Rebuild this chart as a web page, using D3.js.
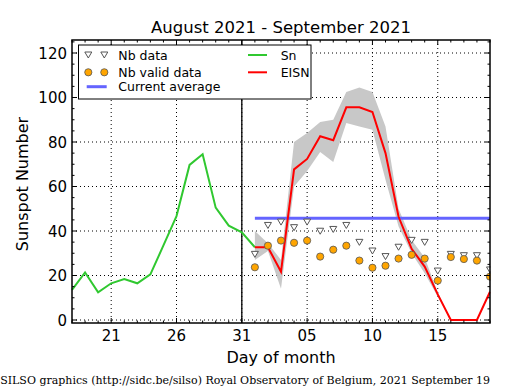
<!DOCTYPE html>
<html><head><meta charset="utf-8">
<script src="https://cdn.jsdelivr.net/npm/d3@7/dist/d3.min.js"></script>
<style>body{margin:0;background:#fff}svg{display:block;font-family:"DejaVu Sans",sans-serif}</style>
</head><body><svg id="c" width="515" height="390"></svg>
<script>
// ---- data ----
const snDates = ["2021-08-18","2021-08-19","2021-08-20","2021-08-21","2021-08-22","2021-08-23","2021-08-24","2021-08-25","2021-08-26","2021-08-27","2021-08-28","2021-08-29","2021-08-30","2021-08-31","2021-09-01"];
const snValues = [13.5,21.4,12.4,16.5,18.4,16.5,20.5,33.5,46.7,69.7,74.5,50.5,42.4,39.4,32.7];
const eisnDates = ["2021-09-01","2021-09-02","2021-09-03","2021-09-04","2021-09-05","2021-09-06","2021-09-07","2021-09-08","2021-09-09","2021-09-10","2021-09-11","2021-09-12","2021-09-13","2021-09-14","2021-09-15","2021-09-16","2021-09-17","2021-09-18","2021-09-19"];
const eisnValues = [32.7,32.7,21.7,67.7,72.4,82.6,80.8,95.6,95.6,93.5,75,46.4,32,24,11.5,0,0,0,12.7];
const eisnUpper = [40,34.5,27,80,84,89,90,102.5,104.5,102.5,87,50,36,28,12.5,0,0,0,13];
const eisnLower = [27,31,14,60,67,75.5,71,88.5,87,85.5,63,42,30,21,10.5,0,0,0,12.5];
const nbData = [29.5,42.5,44,41.5,44,39.9,40.7,42.5,34.9,31,28.5,32.7,35.8,34.9,22,29.5,28.9,28.9,22.5];
const nbValid = [23.7,33.4,35.7,34.7,35.7,28.5,31.6,33.4,26.7,23.5,24.4,27.6,29.3,27.6,17.7,28.3,27.4,26.7,19.5];
const currentAverage = 45.7;
const avgDates = ["2021-09-01","2021-09-19"];
const xDomain = ["2021-08-18","2021-09-19"];
const xTickDates = ["2021-08-21","2021-08-26","2021-08-31","2021-09-05","2021-09-10","2021-09-15"];
const yTicks = [0,20,40,60,80,100,120];
const markerLine = "2021-08-31";
const titleText = "August 2021 - September 2021";
const xLabel = "Day of month";
const yLabel = "Sunspot Number";
const footer = "SILSO graphics (http://sidc.be/silso) Royal Observatory of Belgium, 2021 September 19";

const P = d3.utcParse("%Y-%m-%d");
const svg = d3.select("#c");
const L = 72, R = 490, T = 40, B = 323;
const x = d3.scaleUtc().domain(xDomain.map(P)).range([L, R]);
const y = d3.scaleLinear().domain([0,120]).range([320,53]);

svg.append("rect").attr("width",515).attr("height",390).attr("fill","#fff");

// grid
const g = svg.append("g");
g.selectAll("line.gx").data(xTickDates.map(P)).join("line")
  .attr("x1",d=>x(d)).attr("x2",d=>x(d)).attr("y1",T).attr("y2",B)
  .attr("stroke","#000").attr("stroke-width",1).attr("stroke-dasharray","1,3");
g.selectAll("line.gy").data(yTicks).join("line")
  .attr("y1",d=>y(d)).attr("y2",d=>y(d)).attr("x1",L).attr("x2",R)
  .attr("stroke","#000").attr("stroke-width",1).attr("stroke-dasharray","1,3");

// band
const ed = eisnDates.map(P);
const band = ed.map((d,i)=>({d, lo:eisnLower[i], hi:eisnUpper[i]}));
svg.append("path").datum(band)
  .attr("d", d3.area().x(d=>x(d.d)).y0(d=>y(d.lo)).y1(d=>y(d.hi)))
  .attr("fill","#c8c8c8").attr("stroke","none");

// current average
svg.append("line").attr("x1",x(P(avgDates[0]))).attr("x2",x(P(avgDates[1])))
  .attr("y1",y(currentAverage)).attr("y2",y(currentAverage))
  .attr("stroke","#6464ff").attr("stroke-width",3);

// vertical marker
svg.append("line").attr("x1",x(P(markerLine))).attr("x2",x(P(markerLine))).attr("y1",T).attr("y2",B)
  .attr("stroke","#000").attr("stroke-width",1.3);

// Sn line
const sn = snDates.map((d,i)=>({d:P(d), v:snValues[i]}));
svg.append("path").datum(sn).attr("d", d3.line().x(d=>x(d.d)).y(d=>y(d.v)))
  .attr("fill","none").attr("stroke","#30c830").attr("stroke-width",2);

// EISN line
const ei = ed.map((d,i)=>({d, v:eisnValues[i]}));
svg.append("path").datum(ei).attr("d", d3.line().x(d=>x(d.d)).y(d=>y(d.v)))
  .attr("fill","none").attr("stroke","#ff0000").attr("stroke-width",2);

// markers
const tri = "M-3.5,-3 L3.5,-3 L0,3 Z";
svg.selectAll("path.tri").data(ed.map((d,i)=>({d,v:nbData[i]}))).join("path")
  .attr("d",tri).attr("transform",d=>`translate(${x(d.d)},${y(d.v)})`)
  .attr("fill","#fff").attr("stroke","#555").attr("stroke-width",1);
svg.selectAll("circle.nv").data(ed.map((d,i)=>({d,v:nbValid[i]}))).join("circle")
  .attr("cx",d=>x(d.d)).attr("cy",d=>y(d.v)).attr("r",3.6)
  .attr("fill","#ffa500").attr("stroke","#555").attr("stroke-width",0.8);

// cover outside plot (right side marker overflow)
svg.append("rect").attr("x",R+0.5).attr("y",T-5).attr("width",30).attr("height",B-T+10).attr("fill","#fff");

// frame
svg.append("rect").attr("x",L).attr("y",T).attr("width",R-L).attr("height",B-T)
  .attr("fill","none").attr("stroke","#000").attr("stroke-width",1.5);

// ticks (inward, all sides)
const ax = svg.append("g").attr("stroke","#000").attr("stroke-width",1);
const minorX = d3.utcDay.range(P(xDomain[0]), d3.utcDay.offset(P(xDomain[1]),1));
const majorXs = new Set(xTickDates);
minorX.forEach(d=>{
  const major = majorXs.has(d3.utcFormat("%Y-%m-%d")(d));
  const len = major?5:2.5;
  ax.append("line").attr("x1",x(d)).attr("x2",x(d)).attr("y1",B).attr("y2",B-len);
  ax.append("line").attr("x1",x(d)).attr("x2",x(d)).attr("y1",T).attr("y2",T+len);
});
d3.range(0,126,5).forEach(v=>{
  const len = v%20===0?5:2.5;
  ax.append("line").attr("x1",L).attr("x2",L+len).attr("y1",y(v)).attr("y2",y(v));
  ax.append("line").attr("x1",R).attr("x2",R-len).attr("y1",y(v)).attr("y2",y(v));
});

// tick labels
svg.selectAll("text.xt").data(xTickDates.map(P)).join("text")
  .attr("x",d=>x(d)).attr("y",341).attr("text-anchor","middle").attr("font-size",15)
  .text(d=>d3.utcFormat("%d")(d));
svg.selectAll("text.yt").data(yTicks).join("text")
  .attr("x",67).attr("y",d=>y(d)+5.5).attr("text-anchor","end").attr("font-size",15)
  .text(d=>d);

// labels
svg.append("text").attr("x",281).attr("y",33).attr("text-anchor","middle").attr("font-size",16.5).text(titleText);
svg.append("text").attr("x",281).attr("y",363).attr("text-anchor","middle").attr("font-size",16).text(xLabel);
svg.append("text").attr("transform","translate(28,184) rotate(-90)").attr("text-anchor","middle").attr("font-size",16).text(yLabel);
svg.append("text").attr("x",490).attr("y",384).attr("text-anchor","end").attr("font-size",11)
  .attr("font-family","'DejaVu Serif',serif").text(footer);

// legend
const lg = svg.append("g");
lg.append("rect").attr("x",78.5).attr("y",45).attr("width",232.5).attr("height",54).attr("fill","#fff").attr("stroke","#000").attr("stroke-width",1);
[88.3,104.3].forEach(cx=>{
  lg.append("path").attr("d",tri).attr("transform",`translate(${cx},55)`).attr("fill","#fff").attr("stroke","#555");
  lg.append("circle").attr("cx",cx).attr("cy",72.3).attr("r",3.6).attr("fill","#ffa500").attr("stroke","#555").attr("stroke-width",0.8);
});
lg.append("line").attr("x1",86.7).attr("x2",106.7).attr("y1",86.7).attr("y2",86.7).attr("stroke","#6464ff").attr("stroke-width",3);
lg.append("line").attr("x1",248).attr("x2",267).attr("y1",55).attr("y2",55).attr("stroke","#30c830").attr("stroke-width",2);
lg.append("line").attr("x1",248).attr("x2",267).attr("y1",72.3).attr("y2",72.3).attr("stroke","#ff0000").attr("stroke-width",2);
const lt = [["Nb data",118.3,59.5],["Nb valid data",118.3,76.8],["Current average",118.3,91.2],["Sn",280.7,59.5],["EISN",280.7,76.8]];
lt.forEach(([t,tx,ty])=>lg.append("text").attr("x",tx).attr("y",ty).attr("font-size",12.5).text(t));
</script></body></html>
